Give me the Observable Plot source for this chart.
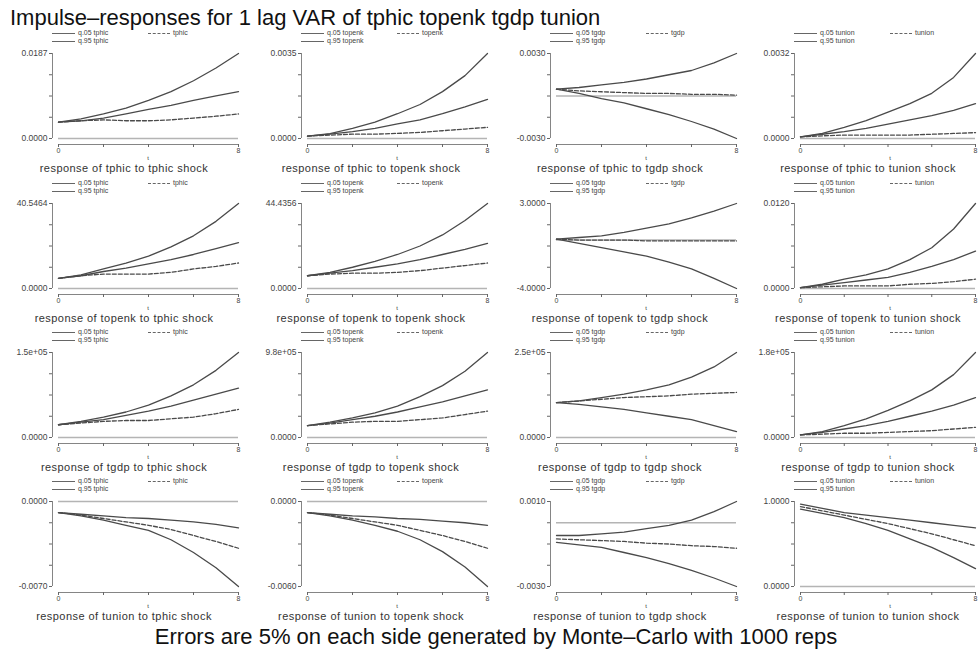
<!DOCTYPE html>
<html><head><meta charset="utf-8">
<script src="https://cdn.jsdelivr.net/npm/d3@7"></script>
<script src="https://cdn.jsdelivr.net/npm/@observablehq/plot@0.6"></script>
<style>
body{margin:0;background:#fff;}
#root{position:relative;width:979px;height:652px;overflow:hidden;font-family:"Liberation Sans",Arial,sans-serif;color:#333;}
.abs{position:absolute;white-space:nowrap;}
.lg{position:absolute;height:0;border-top:1px solid #666;}
.lt{position:absolute;font-size:7px;line-height:8px;color:#444;white-space:nowrap;}
.cap{position:absolute;font-size:11px;line-height:12px;letter-spacing:0.45px;color:#333;white-space:nowrap;transform:translateX(-50%);}
svg{overflow:visible;}
</style></head><body><div id="root"></div>
<script>
// ---- data ----
const variables = ["tphic", "topenk", "tgdp", "tunion"];
const horizon = [0, 1, 2, 3, 4, 5, 6, 7, 8];
const xTickValues = [0, 2, 4, 6, 8];
const xTickLabels = ["0", "", "", "", "8"];
const titleText = "Impulse\u2013responses for 1 lag VAR of tphic topenk tgdp tunion";
const footerText = "Errors are 5% on each side generated by Monte\u2013Carlo with 1000 reps";
const legendPrefixLow = "q.05";
const legendPrefixHigh = "q.95";

// panel order: row = response variable, column = shock variable
const yLow  = [0, 0, -0.003, 0,   0, 0, -4.0, 0,   0, 0, 0, 0,   -0.007, -0.006, -0.003, 0];
const yHigh = [0.0187, 0.0035, 0.003, 0.0032,   40.54, 44.44, 3.0, 0.012,   150000, 980000, 250000, 180000,   0, 0, 0.001, 1.0];
const bottomLabels = ["0.0000","0.0000","-0.0030","0.0000", "0.0000","0.0000","-4.0000","0.0000", "0.0000","0.0000","0.0000","0.0000", "-0.0070","-0.0060","-0.0030","0.0000"];
const topLabels = ["0.0187","0.0035","0.0030","0.0032", "40.5464","44.4356","3.0000","0.0120", "1.5e+05","9.8e+05","2.5e+05","1.8e+05", "0.0000","0.0000","0.0010","1.0000"];

// upper Monte-Carlo quantile
const q95 = [
  [.0036,.0043,.0054,.0067,.0084,.0103,.0127,.0155,.0187],
  [.0001,.0002,.00042,.00067,.00102,.0014,.00193,.00259,.0035],
  [.00048,.0006,.00078,.00096,.0012,.0015,.0018,.00234,.003],
  [.00006,.00019,.00042,.00067,.00099,.00131,.0017,.0023,.0032],
  [4.86,6.49,9.32,12.16,15.41,19.86,25.13,32.03,40.54],
  [6.67,8.44,11.11,14.22,17.78,22.22,28.0,35.55,44.44],
  [.06,.2,.34,.62,.97,1.32,1.81,2.37,3.0],
  [.00012,.0006,.00132,.00192,.00276,.00408,.00576,.0084,.012],
  [22500,28500,36000,45000,57000,73500,93000,118500,150000],
  [137200,176400,225400,284200,362600,470400,597800,764400,980000],
  [102500,107500,117500,127500,140000,155000,177500,207500,250000],
  [5400,12600,25200,39600,57600,77400,100800,133200,180000],
  [-.00091,-.00105,-.00119,-.00133,-.0014,-.00154,-.00168,-.00189,-.00217],
  [-.00078,-.0009,-.00102,-.00108,-.0012,-.00126,-.00138,-.0015,-.00168],
  [-.0006,-.0006,-.00052,-.00044,-.00028,-.00012,.00012,.00052,.001],
  [.97,.92,.87,.84,.81,.78,.75,.72,.69]
];
// lower Monte-Carlo quantile
const q05 = [
  [.0036,.0039,.0045,.0054,.0064,.0073,.0084,.0094,.0103],
  [.0001,.00018,.00028,.00042,.0006,.00077,.00102,.0013,.00161],
  [.00048,.00018,-.00018,-.00048,-.0009,-.00132,-.0018,-.00234,-.003],
  [.00006,.00016,.00026,.00038,.00054,.0007,.00086,.00106,.00131],
  [4.86,6.08,8.11,9.73,11.76,13.78,16.22,19.05,21.89],
  [6.67,8.0,9.33,11.11,12.89,15.11,17.78,20.44,23.55],
  [.06,-.29,-.64,-.99,-1.34,-1.83,-2.39,-3.16,-4.0],
  [.00012,.00048,.00084,.0012,.00156,.00228,.00312,.00408,.00528],
  [22500,27000,31500,39000,46500,55500,66000,76500,87000],
  [137200,166600,205800,245000,294000,352800,411600,480200,548800],
  [102500,97500,90000,82500,72500,62500,52500,35000,17500],
  [5400,10800,18000,25200,34200,45000,55800,68400,84600],
  [-.00091,-.00119,-.00154,-.00196,-.00238,-.00315,-.0042,-.00546,-.007],
  [-.00078,-.00102,-.00132,-.00168,-.0021,-.0027,-.00354,-.00462,-.006],
  [-.00092,-.00104,-.00116,-.0014,-.00164,-.00192,-.00224,-.0026,-.003],
  [.91,.86,.81,.74,.66,.56,.46,.34,.21]
];
// point impulse response (dashed)
const irf = [
  [.0036,.0039,.0041,.0039,.0039,.0041,.0045,.0049,.0054],
  [.0001,.00014,.00018,.00018,.00021,.00025,.00032,.00039,.00046],
  [.00048,.00036,.0003,.00024,.00018,.00018,.00012,.00012,.00006],
  [.00006,.0001,.00013,.00013,.00013,.00013,.00016,.00019,.00022],
  [4.86,6.08,6.89,6.89,6.89,7.70,9.32,10.54,12.16],
  [6.67,7.55,8.0,8.0,8.44,9.33,10.67,12.0,13.33],
  [.06,-.01,-.01,-.01,-.08,-.08,-.08,-.08,-.08],
  [.00012,.00024,.00036,.00036,.00036,.0006,.00072,.00096,.00132],
  [22500,25500,28500,30000,30000,33000,36000,42000,49500],
  [137200,156800,176400,186200,186200,205800,225400,264600,303800],
  [102500,107500,112500,117500,120000,122500,127500,130000,132500],
  [5400,7200,9000,9000,10800,12600,14400,18000,21600],
  [-.00091,-.00112,-.0014,-.00168,-.00196,-.00231,-.0028,-.00329,-.00385],
  [-.00078,-.00096,-.0012,-.00144,-.00168,-.00204,-.0024,-.00282,-.0033],
  [-.00076,-.0008,-.00084,-.00088,-.00096,-.001,-.00108,-.00112,-.0012],
  [.94,.89,.84,.79,.74,.68,.62,.55,.48]
];

// ---- layout ----
const root = document.getElementById("root");
const axisX0 = [52, 301, 550, 794];   // y-axis line x per column
const topTick = [53, 203, 352, 501];  // top tick y per row
const capCenter = [124, 371, 620, 868];
const plotW = [235, 235, 235, 230];
const ML = 45, MT = 4, H = 125, MB = 30;
const lineColor = "#4a4a4a";

function addDiv(cls, text, style) {
  const d = document.createElement("div");
  d.className = cls;
  if (text != null) d.textContent = text;
  Object.assign(d.style, style);
  root.appendChild(d);
  return d;
}

addDiv("abs", titleText, {left: "10px", top: "6px", fontSize: "22px", color: "#111", lineHeight: "24px"});
addDiv("abs", footerText, {left: "496px", top: "625px", fontSize: "22px", color: "#111", lineHeight: "24px", transform: "translateX(-50%)"});

for (let r = 0; r < 4; r++) {
  for (let c = 0; c < 4; c++) {
    const p = r * 4 + c;
    const lo = yLow[p], hi = yHigh[p];
    const step = (hi - lo) / 4;
    const yTicks = [lo, lo + step, lo + 2 * step, lo + 3 * step, hi];
    const fmtY = (d) => d === lo ? bottomLabels[p] : d === hi ? topLabels[p] : "";
    const fmtX = (d) => xTickLabels[xTickValues.indexOf(d)];
    const chart = Plot.plot({
      width: plotW[c], height: H,
      marginLeft: ML, marginRight: 4, marginTop: MT, marginBottom: MB,
      insetLeft: 6, insetBottom: 6,
      x: {domain: [0, 8]},
      y: {domain: [lo, hi]},
      style: {fontFamily: "'Liberation Sans', Arial, sans-serif", background: "transparent", color: "#444", overflow: "visible"},
      marks: [
        Plot.ruleY([0], {x1: 0, x2: 8, stroke: "#b4b4b4", strokeWidth: 1.6}),
        Plot.line(horizon, {x: (h) => h, y: (h, i) => q95[p][i], stroke: lineColor, strokeWidth: 1.3}),
        Plot.line(horizon, {x: (h) => h, y: (h, i) => q05[p][i], stroke: lineColor, strokeWidth: 1.3}),
        Plot.line(horizon, {x: (h) => h, y: (h, i) => irf[p][i], stroke: lineColor, strokeWidth: 1.3, strokeDasharray: "4,2"}),
        Plot.ruleX([0], {y1: lo, y2: hi, dx: -6, stroke: "#666", strokeWidth: 0.8}),
        Plot.ruleY([lo], {x1: 0, x2: 8, dy: 6, stroke: "#666", strokeWidth: 0.8}),
        Plot.axisY({ticks: yTicks, tickFormat: fmtY, tickSize: 3, tickPadding: 2, fontSize: 8.5, stroke: "#666"}),
        Plot.axisX({ticks: xTickValues, tickFormat: fmtX, tickSize: 3, tickPadding: 1, fontSize: 7, stroke: "#666", label: null})
      ]
    });
    chart.style.position = "absolute";
    chart.style.left = (axisX0[c] - ML) + "px";
    chart.style.top = (topTick[r] - MT) + "px";
    root.appendChild(chart);

    const ax = axisX0[c], ty = topTick[r];
    const shock = variables[c];
    // legend
    addDiv("lg", null, {left: ax + "px", top: (ty - 20) + "px", width: "23px"});
    addDiv("lt", legendPrefixLow + " " + shock, {left: (ax + 26) + "px", top: (ty - 24) + "px"});
    addDiv("lg", null, {left: (ax + 96) + "px", top: (ty - 20) + "px", width: "22px", borderTopStyle: "dashed"});
    addDiv("lt", shock, {left: (ax + 121) + "px", top: (ty - 24) + "px"});
    addDiv("lg", null, {left: ax + "px", top: (ty - 12) + "px", width: "23px"});
    addDiv("lt", legendPrefixHigh + " " + shock, {left: (ax + 26) + "px", top: (ty - 16) + "px"});
    // x axis name and caption
    addDiv("cap", "t", {left: (ax + 96) + "px", top: (ty + 99) + "px", fontSize: "6px", letterSpacing: "0px"});
    addDiv("cap", "response of " + variables[r] + " to " + shock + " shock", {left: capCenter[c] + "px", top: (ty + 109) + "px"});
  }
}
</script>
</body></html>
